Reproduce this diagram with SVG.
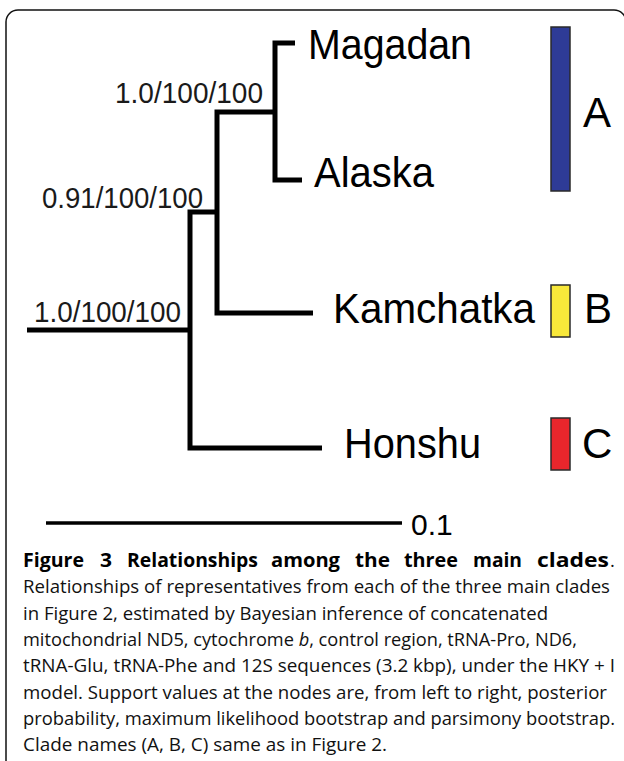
<svg xmlns="http://www.w3.org/2000/svg" width="624" height="761" viewBox="0 0 624 761">
<style>
.br{fill:none;stroke:#000;stroke-width:5;stroke-linecap:butt;stroke-linejoin:miter}
.tx{font-family:"Liberation Sans",Arial,sans-serif;fill:#000}
.tax{font-size:42px}
.sup{font-size:29px;fill:#1a1a1a}
.clade{font-size:42px}
.bar{stroke:#2a2a2a;stroke-width:1.5}
.cap{font-family:"Open Sans","Noto Sans",sans-serif;font-size:18.5px;fill:#111}
.capb{font-family:"Open Sans","Noto Sans",sans-serif;font-size:19.5px;font-weight:bold;fill:#000}
</style>
<rect width="624" height="761" fill="#fff"/>
<path d="M6 761 V22 A12 12 0 0 1 18 10 H614 A12 12 0 0 1 626 22 V761" fill="none" stroke="#111" stroke-width="1.5"/>
<g id="connectors">
<path class="br" d="M295 43 H275 V180 H302"/>
<path class="br" d="M275 112 H217 V313 H313"/>
<path class="br" d="M217 212 H190 V448 H322"/>
<path class="br" d="M27 330 H190"/>
</g>
<g id="magadan"><text class="tx tax" x="308" y="59" textLength="164" lengthAdjust="spacingAndGlyphs">Magadan</text></g>
<g id="alaska"><text class="tx tax" x="314" y="187" textLength="120" lengthAdjust="spacingAndGlyphs">Alaska</text></g>
<g id="kamchatka"><text class="tx tax" x="333" y="323" textLength="202" lengthAdjust="spacingAndGlyphs">Kamchatka</text></g>
<g id="honshu"><text class="tx tax" x="344" y="458" textLength="137" lengthAdjust="spacingAndGlyphs">Honshu</text></g>
<g id="node1-label"><text class="tx sup" x="115" y="103" textLength="148" lengthAdjust="spacingAndGlyphs">1.0/100/100</text></g>
<g id="node2-label"><text class="tx sup" x="42" y="208" textLength="161" lengthAdjust="spacingAndGlyphs">0.91/100/100</text></g>
<g id="root-label"><text class="tx sup" x="34" y="322" textLength="147" lengthAdjust="spacingAndGlyphs">1.0/100/100</text></g>
<g id="clade-A"><rect class="bar" x="551" y="27" width="19" height="164" fill="#2e3b96"/><text class="tx clade" x="583" y="127">A</text></g>
<g id="clade-B"><rect class="bar" x="551" y="285" width="19" height="52" fill="#f8e83a"/><text class="tx clade" x="584" y="323">B</text></g>
<g id="clade-C"><rect class="bar" x="551" y="418" width="19" height="52" fill="#e8262c"/><text class="tx clade" x="582" y="458">C</text></g>
<g id="scale">
<line x1="46" y1="523" x2="402" y2="523" stroke="#000" stroke-width="3.5"/>
<text class="tx" x="411" y="535" font-size="30">0.1</text>
</g>
<g id="caption">
<text class="capb" x="23" y="567" textLength="61" lengthAdjust="spacingAndGlyphs">Figure</text>
<text class="capb" x="100" y="567" textLength="12" lengthAdjust="spacingAndGlyphs">3</text>
<text class="capb" x="127" y="567" textLength="131" lengthAdjust="spacingAndGlyphs">Relationships</text>
<text class="capb" x="271" y="567" textLength="69" lengthAdjust="spacingAndGlyphs">among</text>
<text class="capb" x="355" y="567" textLength="35" lengthAdjust="spacingAndGlyphs">the</text>
<text class="capb" x="404" y="567" textLength="54" lengthAdjust="spacingAndGlyphs">three</text>
<text class="capb" x="473" y="567" textLength="49" lengthAdjust="spacingAndGlyphs">main</text>
<text class="capb" x="537" y="567" textLength="72" lengthAdjust="spacingAndGlyphs">clades</text>
<text class="cap" x="610" y="567">.</text>
<text class="cap" x="23" y="593" textLength="587" lengthAdjust="spacingAndGlyphs">Relationships of representatives from each of the three main clades</text>
<text class="cap" x="23" y="620" textLength="525" lengthAdjust="spacingAndGlyphs">in Figure 2, estimated by Bayesian inference of concatenated</text>
<text class="cap" x="23" y="646" textLength="554" lengthAdjust="spacingAndGlyphs">mitochondrial ND5, cytochrome <tspan font-style="italic">b</tspan>, control region, tRNA-Pro, ND6,</text>
<text class="cap" x="23" y="672" textLength="592" lengthAdjust="spacingAndGlyphs">tRNA-Glu, tRNA-Phe and 12S sequences (3.2 kbp), under the HKY + I</text>
<text class="cap" x="23" y="699" textLength="584" lengthAdjust="spacingAndGlyphs">model. Support values at the nodes are, from left to right, posterior</text>
<text class="cap" x="23" y="725" textLength="592" lengthAdjust="spacingAndGlyphs">probability, maximum likelihood bootstrap and parsimony bootstrap.</text>
<text class="cap" x="23" y="751" textLength="364" lengthAdjust="spacingAndGlyphs">Clade names (A, B, C) same as in Figure 2.</text>
</g>
</svg>
